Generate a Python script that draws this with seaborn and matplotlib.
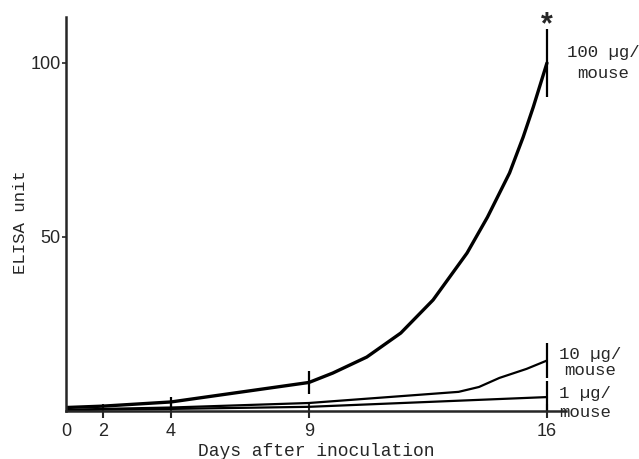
import numpy as np
import pandas as pd
import matplotlib
matplotlib.use("Agg")
import matplotlib.pyplot as plt
import seaborn as sns

# values
days_100 = [0, 2, 4, 9, 9.7, 10.7, 11.7, 12.65, 13.65, 14.25, 14.9, 15.3, 15.6, 16]
elisa_100 = [1.0, 1.4, 2.6, 8.2, 10.9, 15.5, 22.4, 31.9, 45.4, 55.7, 68.4, 78.7, 87.4, 100.0]
days_10 = [0, 2, 4, 9, 13.4, 14.0, 14.6, 15.4, 16]
elisa_10 = [0.3, 0.6, 1.0, 2.3, 5.5, 6.9, 9.5, 12.1, 14.5]
days_1 = [0, 2, 4, 9, 16]
elisa_1 = [0.2, 0.4, 0.6, 1.2, 4.0]

# error bars (day, value, half-width)
err_100 = ([4, 9, 16], [2.6, 8.2, 100.0], [1.4, 3.2, 9.8])
err_10 = ([16], [14.5], [5.0])
err_1 = ([16], [4.0], [4.5])

dose_labels = ["100 \u00b5g/\nmouse", "10 \u00b5g/\nmouse", "1 \u00b5g/\nmouse"]
x_ticks = [0, 2, 4, 9, 16]
y_ticks = [50, 100]

df = pd.concat([
    pd.DataFrame({"day": days_100, "elisa": elisa_100, "dose": "100"}),
    pd.DataFrame({"day": days_10, "elisa": elisa_10, "dose": "10"}),
    pd.DataFrame({"day": days_1, "elisa": elisa_1, "dose": "1"}),
])

sns.set_style("ticks")
plt.rcParams["font.family"] = ["Liberation Sans", "DejaVu Sans"]

fig = plt.figure(figsize=(6.39, 4.59), dpi=100)
ax = fig.add_axes([66 / 639, 48 / 459, 500 / 639, 394 / 459])

# the hand-drawn day axis is not evenly spaced; follow it with a piecewise scale
knot_days = [-10, 0, 2, 4, 9, 16, 30]
knot_pos = [-185, 0, 37, 105, 243, 481, 481 + 14 * 34]


def fwd(x):
    return np.interp(x, knot_days, knot_pos)


def inv(p):
    return np.interp(p, knot_pos, knot_days)


ax.set_xscale("function", functions=(fwd, inv))

sns.lineplot(data=df, x="day", y="elisa", hue="dose", size="dose",
             palette={"100": "black", "10": "black", "1": "black"},
             sizes={"100": 2.4, "10": 1.6, "1": 1.6},
             sort=False, legend=False, ax=ax)

for d, v, e in (err_100, err_10, err_1):
    ax.errorbar(d, v, yerr=e, fmt="none", ecolor="black", elinewidth=1.6, capsize=0)

ax.set_xlim(0, 16.56)
ax.set_ylim(0, 113.2)
ax.set_xticks(x_ticks)
ax.set_yticks(y_ticks)
ax.tick_params(axis="x", direction="inout", length=10, width=1.5, pad=4, labelsize=13)
ax.tick_params(axis="y", direction="out", length=3, width=1.2, pad=1, labelsize=13)
ax.xaxis.get_major_ticks()[0].tick1line.set_visible(False)
sns.despine(ax=ax)
for s in ["left", "bottom"]:
    ax.spines[s].set_linewidth(1.8)

mono = ["Liberation Mono", "DejaVu Sans Mono"]
ax.set_xlabel("Days after inoculation", family=mono, fontsize=13, labelpad=2)
ax.set_ylabel("ELISA unit", family=mono, fontsize=12.5, labelpad=0)
ax.yaxis.set_label_coords(-0.075, 0.48)

label_y = [100, 14, 2.3]
label_dx = [20, 12, 12]
label_ls = [1.5, 1.1, 1.3]
for txt, y, dx, ls in zip(dose_labels, label_y, label_dx, label_ls):
    ax.annotate(txt, xy=(16, y), xytext=(dx, 0), textcoords="offset pixels",
                ha="left", va="center", family=mono, fontsize=12.5,
                multialignment="center", linespacing=ls, annotation_clip=False)

ax.annotate("*", xy=(16, 109), xytext=(0, -9), textcoords="offset pixels",
            ha="center", va="bottom", fontsize=22, fontweight="bold",
            annotation_clip=False)

fig.savefig("out.png", dpi=100)
